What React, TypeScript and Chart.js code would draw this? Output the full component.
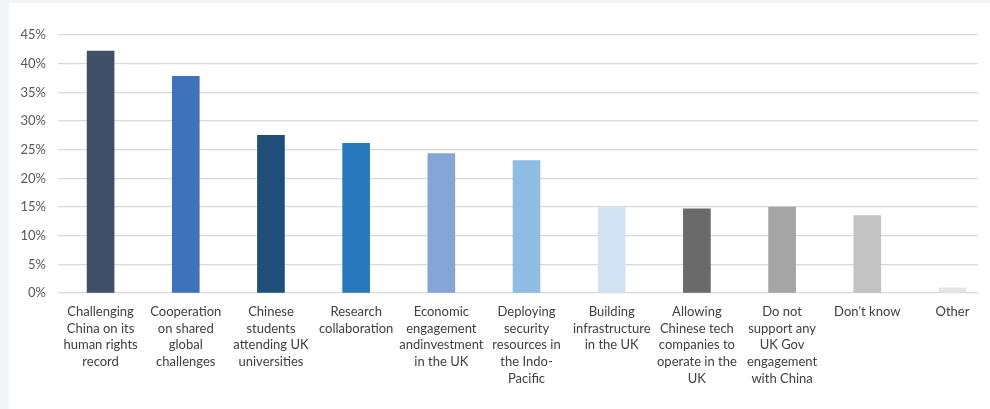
import React, { useEffect, useRef } from "react";
import { Chart, registerables } from "chart.js";

Chart.register(...registerables);

const categories: string[][] = [
  ["Challenging", "China on its", "human rights", "record"],
  ["Cooperation", "on shared", "global", "challenges"],
  ["Chinese", "students", "attending UK", "universities"],
  ["Research", "collaboration"],
  ["Economic", "engagement", "andinvestment", "in the UK"],
  ["Deploying", "security", "resources in", "the Indo-", "Pacific"],
  ["Building", "infrastructure", "in the UK"],
  ["Allowing", "Chinese tech", "companies to", "operate in the", "UK"],
  ["Do not", "support any", "UK Gov", "engagement", "with China"],
  ["Don't know"],
  ["Other"],
];

const values: number[] = [42.2, 37.8, 27.5, 26.1, 24.3, 23.1, 14.9, 14.7, 15.0, 13.5, 0.9];

const barColors: string[] = [
  "#3f5068",
  "#3e72b9",
  "#1f4e79",
  "#2878bc",
  "#84a5d5",
  "#8fbce2",
  "#d1e3f3",
  "#6a6a6a",
  "#a5a5a5",
  "#c3c3c3",
  "#e4e4e4",
];

const yTicks: number[] = [0, 5, 10, 15, 20, 25, 30, 35, 40, 45];

export default function App() {
  const ref = useRef<HTMLCanvasElement | null>(null);

  useEffect(() => {
    if (!ref.current) return;
    const chart = new Chart(ref.current, {
      type: "bar",
      data: {
        datasets: [
          {
            data: values.map((v, i) => ({ x: i, y: v })),
            backgroundColor: barColors,
            barThickness: 27,
            borderWidth: 0,
          },
        ],
      },
      options: {
        animation: false,
        responsive: false,
        layout: { padding: { top: 32, right: 12, left: 0, bottom: 0 } },
        plugins: { legend: { display: false }, tooltip: { enabled: false } },
        scales: {
          x: {
            type: "linear",
            offset: false,
            min: -0.5,
            max: 10.3,
            grid: { display: false, drawTicks: false, offset: false },
            border: { display: false },
            afterBuildTicks: (scale: any) => {
              scale.ticks = categories.map((_, i) => ({ value: i }));
            },
            afterFit: (scale: any) => {
              scale.height = 116;
            },
            ticks: {
              autoSkip: false,
              maxRotation: 0,
              minRotation: 0,
              padding: 10,
              color: "#404040",
              font: { family: "Lato", size: 13, lineHeight: 1.3 },
              callback: (v: any) => categories[Math.round(Number(v))] ?? "",
            },
          },
          y: {
            min: 0,
            max: 45,
            afterBuildTicks: (scale: any) => {
              scale.ticks = yTicks.map((v) => ({ value: v }));
            },
            afterFit: (scale: any) => {
              scale.width = 49;
            },
            grid: { color: "#d9d9d9", lineWidth: 1.3, drawTicks: false },
            border: { display: false },
            ticks: {
              padding: 12,
              color: "#595959",
              font: { family: "Lato", size: 13 },
              callback: (v: any) => `${v}%`,
            },
          },
        },
      },
    });
    return () => chart.destroy();
  }, []);

  return (
    <div
      style={{
        position: "fixed",
        inset: 0,
        background: "#f2f6f9",
        overflow: "hidden",
      }}
    >
      <div
        style={{
          position: "absolute",
          left: 9,
          top: 3,
          width: 981,
          height: 406,
          background: "#ffffff",
        }}
      >
        <canvas ref={ref} width={981} height={406} style={{ display: "block" }} />
      </div>
    </div>
  );
}
